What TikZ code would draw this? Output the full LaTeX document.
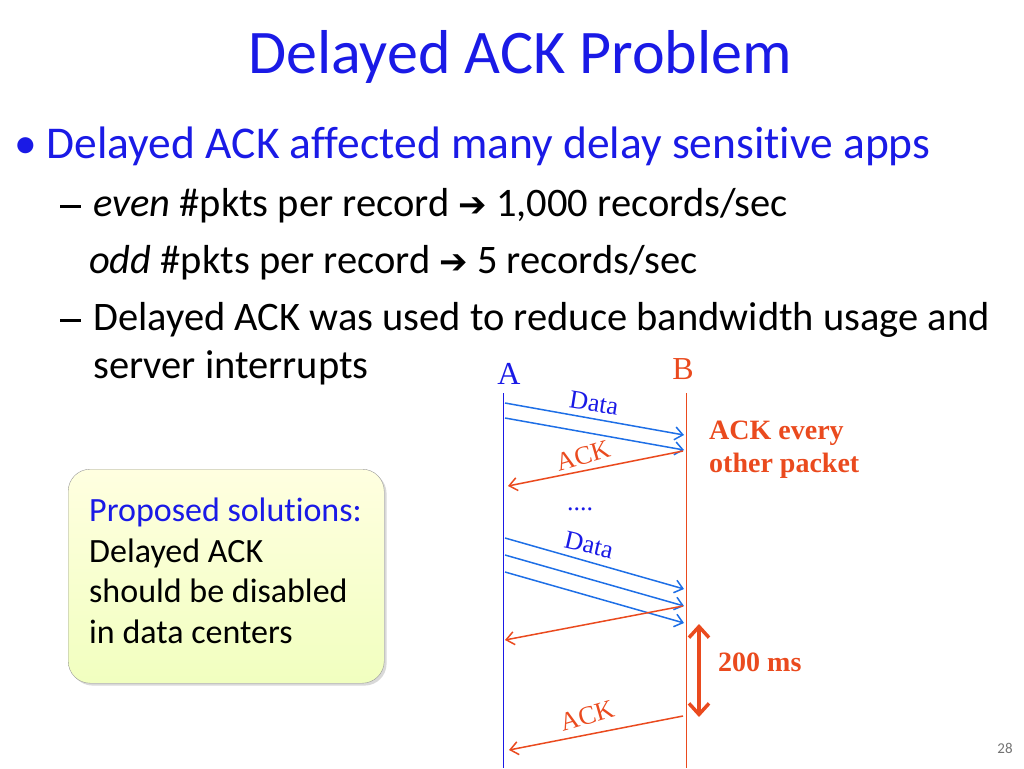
\documentclass[tikz,border=0pt]{standalone}
\usepackage{fontspec}
\setmainfont{Carlito}[RawFeature=-liga]
\newfontfamily\serifx{Liberation Serif}
\usetikzlibrary{arrows.meta,shadows}
\definecolor{ttl}{HTML}{1A1AE6}
\definecolor{arrb}{HTML}{1E6FE6}
\definecolor{arro}{HTML}{EA4A1E}
\newcommand{\rarr}{{\fontspec{DejaVu Sans}\bfseries\fontsize{34}{34}\selectfont ➔}}
\newcommand{\dsh}{\raisebox{9pt}{\rule{21pt}{2.4pt}}\hspace{12pt}}
\begin{document}
\begin{tikzpicture}[x=1pt,y=-1pt,
  txt/.style={anchor=west,inner sep=0pt,font=\fontsize{40.5}{46}\selectfont},
  dmsg/.style={draw=arrb,line width=1.5pt,-{Straight Barb[length=8pt,width=13pt]}},
  amsg/.style={draw=arro,line width=1.5pt,-{Straight Barb[length=8pt,width=13pt]}},
  lbl/.style={font=\serifx\fontsize{26}{28}\selectfont,inner sep=0pt}]
\useasboundingbox (0,0) rectangle (1024,768);
\node[font=\fontsize{62}{68}\selectfont,text=ttl] (title) at (520,57) {Delayed ACK Problem};
\node[txt,font=\fontsize{45.5}{50}\selectfont,text=ttl] (b1) at (14,146) {\textbullet\hspace{10pt}Delayed ACK affected many delay sensitive apps};
\node[txt] (s1) at (60,206) {\dsh\textit{even} \#pkts per record \rarr\ 1,000 records/sec};
\node[txt] (s2) at (89,263) {\textit{odd} \#pkts per record \rarr\ 5 records/sec};
\node[txt] (s3) at (60,320) {\dsh Delayed ACK was used to reduce bandwidth usage and};
\node[txt] (s4) at (93,368) {server interrupts};
% box
\node[draw=black!40,rounded corners=22pt,minimum width=316pt,minimum height=214pt,
  top color=yellow!12,bottom color=green!22!yellow!25,drop shadow={opacity=0.3},
  anchor=north west] (box) at (68,469) {};
\node[anchor=north west,inner sep=0pt,align=left,font=\fontsize{34}{40.5}\selectfont] (boxt) at (89,498)
  {\textcolor{ttl}{Proposed solutions:}\\Delayed ACK\\should be disabled\\in data centers};
% timelines
\node[lbl,font=\serifx\fontsize{32}{34}\selectfont,text=ttl] (A) at (509,374) {A};
\node[lbl,font=\serifx\fontsize{32}{34}\selectfont,text=arro] (B) at (683,369) {B};
\coordinate (a0) at (503,393); \coordinate (a1) at (503,768);
\coordinate (b0) at (686,393); \coordinate (b1) at (686,768);
\draw[ttl,line width=1pt] (a0)--(a1);
\draw[arro,line width=1pt] (b0)--(b1);
\foreach \n/\ya/\yb in {d1/403/435,d2/418/450,d3/538/589,d4/555/606,d5/572/623}{
  \coordinate (\n s) at (505,\ya); \coordinate (\n e) at (684,\yb);
  \draw[dmsg] (\n s)--(\n e);}
\foreach \n/\ya/\yb/\xb in {k1/451/486/508,k2/606/640/505,k3/716/750/509}{
  \coordinate (\n s) at (683,\ya); \coordinate (\n e) at (\xb,\yb);
  \draw[amsg] (\n s)--(\n e);}
\node[lbl,text=ttl,rotate=-9] (dl1) at (594,403) {Data};
\node[lbl,text=arro,rotate=16] (al1) at (583,456) {ACK};
\node[lbl,text=ttl] (dots) at (580,509) {....};
\node[lbl,text=ttl,rotate=-13] (dl2) at (589,545) {Data};
\node[lbl,text=arro,rotate=16] (al2) at (587,716) {ACK};
\node[anchor=west,inner sep=0pt,align=left,text=arro,font=\serifx\bfseries\fontsize{28}{33}\selectfont] (note) at (709,450) {ACK every\\other packet};
\coordinate (t0) at (699,624); \coordinate (t1) at (699,717);
\draw[arro,line width=3.5pt,{Straight Barb[length=11pt,width=20pt]}-{Straight Barb[length=11pt,width=20pt]}] (t0)--(t1);
\node[anchor=west,inner sep=0pt,text=arro,font=\serifx\bfseries\fontsize{28}{30}\selectfont] (ms) at (718,662) {200 ms};
\node[text=black!55,font=\fontsize{15}{17}\selectfont] (pg) at (1005,748) {28};
\end{tikzpicture}
\end{document}
